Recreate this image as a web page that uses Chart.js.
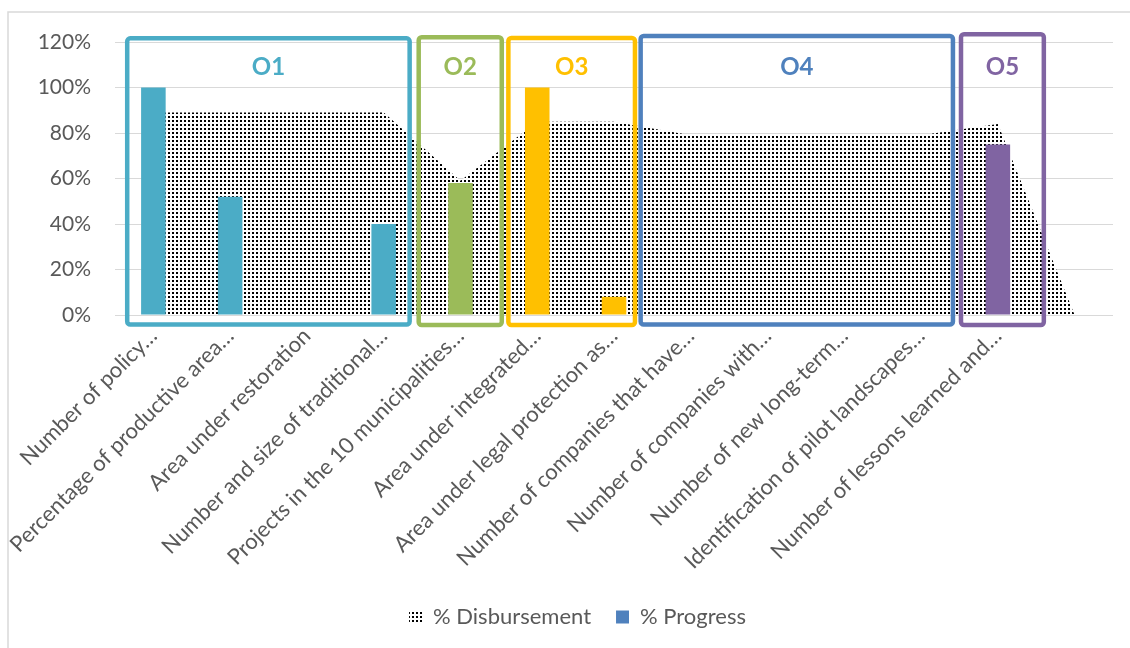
<!DOCTYPE html>
<html>
<head>
<meta charset="utf-8">
<script src="https://cdn.jsdelivr.net/npm/chart.js@4.4.1/dist/chart.umd.min.js"></script>
<style>
html,body{margin:0;padding:0;background:#fff;}
#wrap{width:1130px;height:648px;position:relative;}
</style>
</head>
<body>
<div id="wrap"><canvas id="c" width="1130" height="648"></canvas></div>
<script>
// ---- data ----
const categories = [
  "Number of policy…",
  "Percentage of productive area…",
  "Area under restoration",
  "Number and size of traditional…",
  "Projects in the 10 municipalities…",
  "Area under integrated…",
  "Area under legal protection as…",
  "Number of companies that have…",
  "Number of companies with…",
  "Number of new long-term…",
  "Identification of pilot landscapes…",
  "Number of lessons learned and…",
  ""
];
const disbursement = [0.89, 0.89, 0.89, 0.89, 0.59, 0.85, 0.85, 0.79, 0.79, 0.79, 0.79, 0.84, 0];
const progress = [1.00, 0.52, 0, 0.40, 0.58, 1.00, 0.08, 0, 0, 0, 0, 0.75, null];
const yTicks = [0, 0.2, 0.4, 0.6, 0.8, 1.0, 1.2];
const seriesNames = ["% Disbursement", "% Progress"];

// objective groups (annotation boxes), in category units / value units
const objLabels = ["O1", "O2", "O3", "O4", "O5"];
const objStart = [-0.341, 3.456, 4.624, 6.347, 10.52];
const objEnd = [3.338, 4.538, 6.273, 10.415, 11.599];
const objTop = [1.216, 1.221, 1.218, 1.226, 1.234];
const objBottom = [-0.042, -0.044, -0.044, -0.042, -0.044];

// ---- styles ----
const C_O1 = "#4BACC6", C_O2 = "#9BBB59", C_O3 = "#FFC000", C_O4 = "#4F81BD", C_O5 = "#8064A2";
const objColors = [C_O1, C_O2, C_O3, C_O4, C_O5];
const barColors = [C_O1, C_O1, C_O1, C_O1, C_O2, C_O3, C_O3, C_O4, C_O4, C_O4, C_O4, C_O5, C_O5];
const TXT = "#595959";
const FONT = "Lato, 'Open Sans', sans-serif";

function makePattern() {
  const p = document.createElement("canvas");
  p.width = 4; p.height = 4;
  const g = p.getContext("2d");
  g.fillStyle = "#ffffff"; g.fillRect(0, 0, 4, 4);
  g.fillStyle = "#000000"; g.fillRect(0, 0, 2, 2);
  return document.getElementById("c").getContext("2d").createPattern(p, "repeat");
}
const dotPattern = makePattern();

const frame = {
  id: "frame",
  beforeDraw(chart) {
    const ctx = chart.ctx;
    ctx.save();
    ctx.fillStyle = "#fff";
    ctx.fillRect(0, 0, chart.width, chart.height);
    ctx.strokeStyle = "#D9D9D9";
    ctx.lineWidth = 1.5;
    ctx.strokeRect(8, 12, chart.width + 20, chart.height + 20);
    ctx.restore();
  }
};

const legendShift = {
  id: "legendShift",
  afterLayout(chart) {
    if (chart.legend) { chart.legend.left += 21; chart.legend.right += 21; }
  }
};

function roundRect(ctx, x, y, w, h, r) {
  ctx.beginPath();
  ctx.moveTo(x + r, y);
  ctx.lineTo(x + w - r, y);
  ctx.arcTo(x + w, y, x + w, y + r, r);
  ctx.lineTo(x + w, y + h - r);
  ctx.arcTo(x + w, y + h, x + w - r, y + h, r);
  ctx.lineTo(x + r, y + h);
  ctx.arcTo(x, y + h, x, y + h - r, r);
  ctx.lineTo(x, y + r);
  ctx.arcTo(x, y, x + r, y, r);
  ctx.closePath();
}

const groups = {
  id: "groups",
  afterDatasetsDraw(chart) {
    const ctx = chart.ctx, xs = chart.scales.x, ys = chart.scales.y;
    ctx.save();
    for (let i = 0; i < objLabels.length; i++) {
      const x1 = xs.getPixelForValue(objStart[i]);
      const x2 = xs.getPixelForValue(objEnd[i]);
      const y1 = ys.getPixelForValue(objTop[i]);
      const y2 = ys.getPixelForValue(objBottom[i]);
      ctx.strokeStyle = objColors[i];
      ctx.lineWidth = 4.5;
      roundRect(ctx, x1, y1, x2 - x1, y2 - y1, 3);
      ctx.stroke();
      ctx.fillStyle = objColors[i];
      ctx.font = "bold 24px " + FONT;
      ctx.textAlign = "center";
      ctx.textBaseline = "middle";
      ctx.fillText(objLabels[i], (x1 + x2) / 2, ys.getPixelForValue(1.09));
    }
    ctx.restore();
  }
};

new Chart(document.getElementById("c"), {
  data: {
    labels: categories,
    datasets: [
      {
        type: "line",
        label: seriesNames[0],
        data: disbursement,
        fill: "origin",
        backgroundColor: dotPattern,
        borderColor: "rgba(0,0,0,0)",
        borderWidth: 0,
        pointRadius: 0,
        tension: 0,
        order: 2
      },
      {
        type: "bar",
        label: seriesNames[1],
        data: progress,
        backgroundColor: barColors,
        borderWidth: 0,
        categoryPercentage: 1,
        barPercentage: 0.32,
        order: 1
      }
    ]
  },
  options: {
    responsive: false,
    animation: false,
    devicePixelRatio: 1,
    layout: { padding: { top: 42, right: 17, left: 0, bottom: 10 } },
    plugins: {
      tooltip: { enabled: false },
      legend: {
        position: "bottom",
        labels: {
          color: TXT,
          font: { family: FONT, size: 22 },
          boxWidth: 13,
          boxHeight: 13,
          padding: 25,
          generateLabels() {
            return [
              { text: seriesNames[0], fillStyle: dotPattern, strokeStyle: "rgba(0,0,0,0)", lineWidth: 0, datasetIndex: 0, fontColor: TXT },
              { text: seriesNames[1], fillStyle: C_O4, strokeStyle: "rgba(0,0,0,0)", lineWidth: 0, datasetIndex: 1, fontColor: TXT }
            ];
          }
        }
      }
    },
    scales: {
      x: {
        type: "category",
        offset: true,
        grid: { display: false },
        border: { display: false },
        ticks: {
          color: TXT,
          font: { family: FONT, size: 22 },
          autoSkip: false,
          minRotation: 45,
          maxRotation: 45,
          padding: 0
        },
        afterFit(s) { s.height = 266; }
      },
      y: {
        min: 0,
        max: 1.2,
        afterBuildTicks(s) { s.ticks = yTicks.map(v => ({ value: v })); },
        grid: { color: "#D9D9D9", lineWidth: 1, drawTicks: false },
        border: { display: false },
        ticks: {
          color: TXT,
          font: { family: FONT, size: 21 },
          padding: 24,
          callback: v => Math.round(v * 100) + "%"
        },
        afterFit(s) { s.width = 115; }
      }
    }
  },
  plugins: [frame, legendShift, groups]
});
</script>
</body>
</html>
